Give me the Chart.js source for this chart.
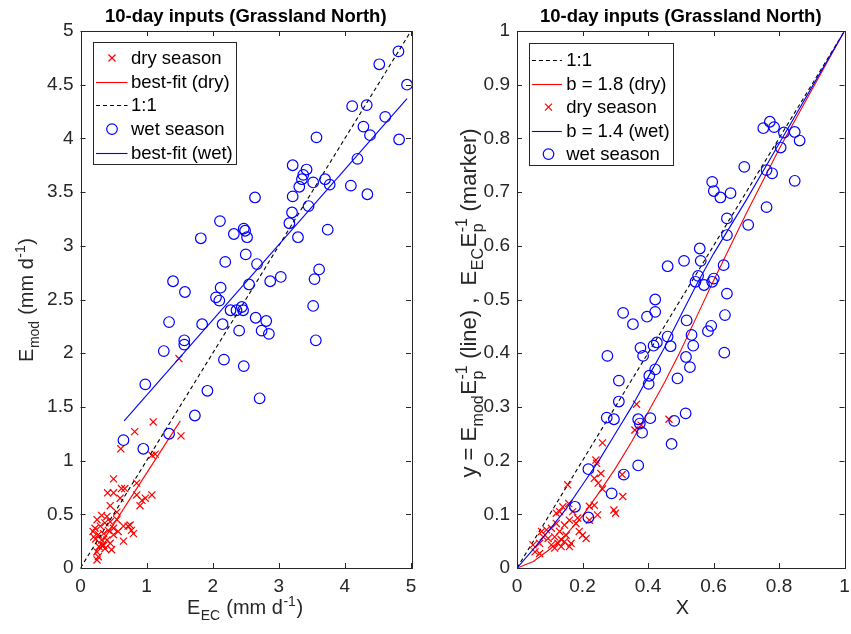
<!DOCTYPE html>
<html><head><meta charset="utf-8">
<script src="https://cdn.jsdelivr.net/npm/chart.js@4.4.1/dist/chart.umd.min.js"></script>
<style>
html,body{margin:0;padding:0;background:#fff;}
#wrap{position:relative;width:851px;height:634px;overflow:hidden;}
#c1{position:absolute;left:0;top:0;}
#c2{position:absolute;left:430px;top:0;}
</style></head><body>
<div id="wrap"><canvas id="c1" width="430" height="634"></canvas><canvas id="c2" width="421" height="634"></canvas></div>
<script>
// ---------------- DATA ----------------
const titleText = '10-day inputs (Grassland North)';

// Left panel: E_mod vs E_EC
const leftXTicks = [0, 1, 2, 3, 4, 5];
const leftYTicks = [0, 0.5, 1, 1.5, 2, 2.5, 3, 3.5, 4, 4.5, 5];

const leftDryX = [1.10,0.82,1.52,0.61,1.08,1.13,0.50,0.62,0.67,0.41,0.50,0.85,0.85,1.08,0.98,0.93,0.90,0.60,0.45,0.55,0.32,0.40,0.25,0.22,0.30,0.37,0.45,0.55,0.65,0.72,0.77,0.75,0.80,0.57,0.50,0.35,0.27,0.20,0.23,0.32,0.40,0.45,0.35,0.28,0.37,0.47,0.65,0.25,0.27,0.25,0.33,0.19,0.42,0.50,1.49];
const leftDryY = [1.36,1.27,1.23,1.11,1.05,1.06,0.83,0.74,0.74,0.70,0.70,0.79,0.68,0.68,0.65,0.63,0.58,0.65,0.58,0.52,0.49,0.48,0.45,0.37,0.39,0.42,0.43,0.45,0.39,0.39,0.35,0.40,0.32,0.34,0.31,0.32,0.31,0.29,0.27,0.26,0.26,0.23,0.21,0.20,0.18,0.17,0.25,0.15,0.105,0.075,0.21,0.34,0.35,0.37,1.95];

const leftWetX = [4.81,4.52,4.94,4.11,4.33,4.61,4.28,4.38,4.82,3.57,4.19,3.21,3.42,3.37,3.35,3.31,3.52,3.70,3.77,4.09,4.34,2.64,3.21,3.45,3.20,3.16,3.29,3.74,2.11,1.82,2.32,2.47,2.49,2.52,2.50,2.19,2.67,3.03,2.87,3.61,3.54,1.40,1.58,2.55,2.12,2.05,2.10,2.27,2.36,2.44,2.46,3.52,1.34,1.84,2.15,2.65,2.81,2.40,2.74,2.85,1.57,1.57,3.56,1.26,2.17,2.47,0.98,1.92,2.71,1.73,1.34,0.65,0.95];
const leftWetY = [4.81,4.69,4.50,4.30,4.31,4.20,4.11,4.03,3.99,4.01,3.81,3.75,3.71,3.66,3.62,3.55,3.59,3.62,3.57,3.56,3.48,3.45,3.46,3.37,3.31,3.21,3.08,3.15,3.23,3.07,3.11,3.16,3.14,3.08,2.92,2.85,2.83,2.71,2.67,2.78,2.69,2.67,2.57,2.64,2.61,2.52,2.49,2.40,2.40,2.43,2.40,2.44,2.29,2.27,2.27,2.33,2.30,2.21,2.21,2.18,2.12,2.08,2.12,2.02,1.94,1.88,1.71,1.65,1.58,1.42,1.25,1.19,1.11];

const leftFitDryX = [0.20, 1.51];
const leftFitDryY = [0.12, 1.37];
const leftFitWetX = [0.66, 4.94];
const leftFitWetY = [1.37, 4.37];
const leftOneX = [0, 5];
const leftOneY = [0, 5];

// Right panel: y vs X
const rightXTicks = [0, 0.2, 0.4, 0.6, 0.8, 1];
const rightYTicks = [0, 0.1, 0.2, 0.3, 0.4, 0.5, 0.6, 0.7, 0.8, 0.9, 1];

const rightOneX = [0, 1];
const rightOneY = [0, 1];
const curveDryX = [0,0.05,0.1,0.15,0.2,0.25,0.3,0.35,0.4,0.45,0.5,0.55,0.6,0.7,0.8,0.9,1];
const curveDryY = [0,0.012,0.035,0.062,0.097,0.14,0.185,0.235,0.29,0.345,0.405,0.47,0.535,0.66,0.78,0.89,1];
const curveWetX = [0,0.05,0.1,0.15,0.2,0.25,0.3,0.35,0.4,0.45,0.5,0.55,0.6,0.7,0.8,0.9,1];
const curveWetY = [0,0.035,0.072,0.11,0.155,0.2,0.25,0.3,0.355,0.41,0.47,0.53,0.585,0.685,0.79,0.895,1];

const rightDryX = [0.365,0.464,0.360,0.379,0.261,0.241,0.243,0.256,0.236,0.248,0.155,0.261,0.323,0.321,0.296,0.301,0.221,0.236,0.246,0.221,0.158,0.170,0.140,0.130,0.160,0.180,0.145,0.120,0.105,0.090,0.075,0.130,0.190,0.200,0.211,0.150,0.115,0.095,0.135,0.145,0.125,0.165,0.160,0.135,0.105,0.069,0.049,0.069,0.115,0.080,0.120,0.185,0.055];
const rightDryY = [0.305,0.277,0.257,0.266,0.233,0.201,0.195,0.176,0.167,0.158,0.155,0.147,0.133,0.174,0.108,0.102,0.115,0.117,0.099,0.089,0.120,0.105,0.114,0.105,0.089,0.083,0.080,0.083,0.074,0.071,0.068,0.068,0.068,0.061,0.055,0.061,0.058,0.055,0.053,0.049,0.046,0.046,0.040,0.040,0.043,0.046,0.043,0.027,0.037,0.058,0.102,0.093,0.030];

const rightWetX = [0.772,0.752,0.785,0.815,0.848,0.863,0.805,0.694,0.762,0.779,0.848,0.596,0.601,0.621,0.652,0.762,0.641,0.641,0.706,0.558,0.561,0.510,0.460,0.631,0.553,0.545,0.571,0.601,0.596,0.641,0.422,0.422,0.397,0.324,0.354,0.518,0.635,0.593,0.583,0.460,0.533,0.469,0.538,0.427,0.417,0.377,0.385,0.276,0.516,0.633,0.528,0.422,0.404,0.402,0.490,0.311,0.311,0.274,0.296,0.370,0.375,0.407,0.382,0.480,0.515,0.472,0.370,0.218,0.326,0.289,0.177,0.218];
const rightWetY = [0.831,0.819,0.821,0.811,0.812,0.796,0.783,0.747,0.741,0.735,0.721,0.719,0.702,0.690,0.698,0.672,0.651,0.620,0.639,0.595,0.572,0.572,0.562,0.564,0.544,0.533,0.527,0.539,0.533,0.511,0.500,0.477,0.468,0.475,0.454,0.461,0.471,0.451,0.441,0.431,0.434,0.413,0.414,0.420,0.414,0.410,0.395,0.395,0.393,0.401,0.374,0.370,0.358,0.343,0.353,0.349,0.310,0.280,0.277,0.277,0.269,0.279,0.252,0.274,0.288,0.231,0.191,0.184,0.174,0.139,0.114,0.094];

// ---------------- STYLE / HELPERS ----------------
const AX = '#262626';
const RED = '#ff0000';
const BLUE = '#0000ff';
const FONT = "'Liberation Sans', Arial, Helvetica, sans-serif";
const TICK_FS = 19;
const LABEL_FS = 20;
const LEGEND_FS = 18.5;
Chart.defaults.font.family = FONT;
Chart.defaults.font.size = TICK_FS;
Chart.defaults.color = AX;

function pts(xs, ys) { return xs.map((x, i) => ({ x: x, y: ys[i] })); }

function drawRich(ctx, runs, cx, cy, rotate, fs, color) {
  const sm = Math.round(fs * 0.72);
  ctx.save();
  ctx.translate(cx, cy);
  if (rotate) ctx.rotate(-Math.PI / 2);
  ctx.fillStyle = color;
  ctx.textBaseline = 'alphabetic';
  ctx.textAlign = 'left';
  const widths = runs.map(r => {
    if (r.sub || r.sup) {
      ctx.font = sm + 'px ' + FONT;
      const a = r.sub ? ctx.measureText(r.sub).width : 0;
      const b = r.sup ? ctx.measureText(r.sup).width : 0;
      return Math.max(a, b) + 1;
    }
    ctx.font = fs + 'px ' + FONT;
    return ctx.measureText(r.t).width;
  });
  const total = widths.reduce((s, w) => s + w, 0);
  let x = -total / 2;
  runs.forEach((r, i) => {
    if (r.sub || r.sup) {
      ctx.font = sm + 'px ' + FONT;
      if (r.sub) ctx.fillText(r.sub, x + 0.5, fs * 0.3);
      if (r.sup) ctx.fillText(r.sup, x + 0.5, -fs * 0.42);
    } else {
      ctx.font = fs + 'px ' + FONT;
      ctx.fillText(r.t, x, 0);
    }
    x += widths[i];
  });
  ctx.restore();
}

const framePlugin = {
  id: 'frame',
  afterDatasetsDraw(chart) {
    const ctx = chart.ctx, a = chart.chartArea;
    const xs = chart.scales.x, ys = chart.scales.y;
    const L = 5;
    ctx.save();
    ctx.strokeStyle = AX;
    ctx.lineWidth = 1;
    ctx.setLineDash([]);
    ctx.beginPath();
    xs.ticks.forEach(t => {
      const p = Math.round(xs.getPixelForValue(t.value)) + 0.5;
      ctx.moveTo(p, a.bottom); ctx.lineTo(p, a.bottom - L);
      ctx.moveTo(p, a.top); ctx.lineTo(p, a.top + L);
    });
    ys.ticks.forEach(t => {
      const p = Math.round(ys.getPixelForValue(t.value)) + 0.5;
      ctx.moveTo(a.left, p); ctx.lineTo(a.left + L, p);
      ctx.moveTo(a.right, p); ctx.lineTo(a.right - L, p);
    });
    ctx.stroke();
    ctx.strokeRect(Math.round(a.left) + 0.5, Math.round(a.top) + 0.5, Math.round(a.right - a.left), Math.round(a.bottom - a.top));
    ctx.restore();
  },
  afterDraw(chart, args, opts) {
    const ctx = chart.ctx;
    if (opts.yTitle) drawRich(ctx, opts.yTitle.runs, opts.yTitle.x, opts.yTitle.y, true, opts.yTitle.fs || opts.fs, AX);
    if (opts.xTitle) drawRich(ctx, opts.xTitle.runs, opts.xTitle.x, opts.xTitle.y, false, opts.fs, AX);
  }
};

const legendPlugin = {
  id: 'boxLegend',
  afterDatasetsDraw(chart, args, o) {
    const ctx = chart.ctx, a = chart.chartArea;
    const ds = chart.data.datasets;
    ctx.save();
    ctx.font = o.fs + 'px ' + FONT;
    let maxW = 0;
    ds.forEach(d => { maxW = Math.max(maxW, ctx.measureText(d.label).width); });
    const bx = Math.round(a.left + o.dx) + 0.5, by = Math.round(a.top + o.dy) + 0.5;
    const bw = Math.round(o.textX + maxW + 4), bh = o.h;
    ctx.fillStyle = '#fff';
    ctx.fillRect(bx, by, bw, bh);
    ctx.strokeStyle = AX; ctx.lineWidth = 1;
    ctx.strokeRect(bx, by, bw, bh);
    ds.forEach((d, i) => {
      const cy = by + o.first + i * o.row;
      if (d.showLine) {
        ctx.strokeStyle = d.borderColor;
        ctx.lineWidth = d.borderWidth;
        ctx.setLineDash(d.borderDash || []);
        ctx.beginPath();
        ctx.moveTo(bx + o.l0, Math.round(cy) + 0.5);
        ctx.lineTo(bx + o.l1, Math.round(cy) + 0.5);
        ctx.stroke();
        ctx.setLineDash([]);
      } else {
        ctx.strokeStyle = d.pointBorderColor;
        ctx.lineWidth = 1.2;
        const mx = bx + o.mk, r = d.pointRadius;
        ctx.beginPath();
        if (d.pointStyle === 'circle') {
          ctx.arc(mx, cy, r, 0, Math.PI * 2);
        } else {
          const h = r * Math.SQRT1_2;
          ctx.moveTo(mx - h, cy - h); ctx.lineTo(mx + h, cy + h);
          ctx.moveTo(mx - h, cy + h); ctx.lineTo(mx + h, cy - h);
        }
        ctx.stroke();
      }
      ctx.fillStyle = '#000';
      ctx.textBaseline = 'middle';
      ctx.textAlign = 'left';
      ctx.fillText(d.label, bx + o.textX, cy + 1);
    });
    ctx.restore();
  }
};

function markerSet(label, xs, ys, style, color, r) {
  return { label: label, data: pts(xs, ys), showLine: false, pointStyle: style,
    pointRadius: r, pointBorderColor: color, pointBackgroundColor: 'rgba(0,0,0,0)',
    pointBorderWidth: 1.2, borderColor: color, clip: false };
}
function lineSet(label, xs, ys, color, dash) {
  return { label: label, data: pts(xs, ys), showLine: true, pointRadius: 0,
    borderColor: color, borderWidth: 1.1, borderDash: dash || [], tension: 0, fill: false };
}
function ordered(list) { list.forEach((d, i) => { d.order = list.length - i; }); return list; }

function axisCfg(min, max, ticks, which, size) {
  const c = {
    type: 'linear', min: min, max: max,
    grid: { display: false, drawTicks: false }, border: { display: false },
    ticks: { color: AX, font: { size: TICK_FS }, padding: 7, callback: v => String(v), maxRotation: 0, autoSkip: false },
    afterBuildTicks: s => { s.ticks = ticks.map(v => ({ value: v })); }
  };
  if (which === 'x') c.afterFit = s => { s.height = size; s.paddingLeft = 0; s.paddingRight = 0; };
  else c.afterFit = s => { s.width = size; s.paddingTop = 0; s.paddingBottom = 0; };
  return c;
}

function baseOptions(xAxis, yAxis, padRight, legendOpts, frameOpts) {
  return {
    responsive: false, animation: false, events: [],
    devicePixelRatio: 1,
    layout: { padding: { left: 0, right: padRight, top: 0, bottom: 0 } },
    scales: { x: xAxis, y: yAxis },
    plugins: {
      legend: { display: false }, tooltip: { enabled: false },
      title: { display: true, text: titleText, fullSize: false, color: '#000',
        font: { size: 18.5, weight: 'bold' }, padding: { top: 6, bottom: 2.8 } },
      boxLegend: legendOpts,
      frame: frameOpts
    }
  };
}

// ---------------- LEFT CHART ----------------
new Chart(document.getElementById('c1'), {
  type: 'scatter',
  data: { datasets: ordered([
    markerSet('dry season', leftDryX, leftDryY, 'crossRot', RED, 5),
    lineSet('best-fit (dry)', leftFitDryX, leftFitDryY, RED),
    lineSet('1:1', leftOneX, leftOneY, '#000', [4, 3]),
    markerSet('wet season', leftWetX, leftWetY, 'circle', BLUE, 5.3),
    lineSet('best-fit (wet)', leftFitWetX, leftFitWetY, BLUE)
  ]) },
  options: baseOptions(
    axisCfg(0, 5, leftXTicks, 'x', 66),
    axisCfg(0, 5, leftYTicks, 'y', 80.5),
    19,
    { fs: LEGEND_FS, dx: 12, dy: 10.5, h: 122, first: 15.5, row: 23.7, textX: 37.5, l0: 2.5, l1: 34, mk: 18.5 },
    { fs: LABEL_FS,
      yTitle: { x: 33, y: 300, runs: [{ t: 'E' }, { sub: 'mod' }, { t: ' (mm d' }, { sup: '-1' }, { t: ')' }] },
      xTitle: { x: 245, y: 614, runs: [{ t: 'E' }, { sub: 'EC' }, { t: ' (mm d' }, { sup: '-1' }, { t: ')' }] } }
  ),
  plugins: [framePlugin, legendPlugin]
});

// ---------------- RIGHT CHART ----------------
new Chart(document.getElementById('c2'), {
  type: 'scatter',
  data: { datasets: ordered([
    lineSet('1:1', rightOneX, rightOneY, '#000', [4, 3]),
    lineSet('b = 1.8 (dry)', curveDryX, curveDryY, RED),
    markerSet('dry season', rightDryX, rightDryY, 'crossRot', RED, 5),
    lineSet('b = 1.4 (wet)', curveWetX, curveWetY, BLUE),
    markerSet('wet season', rightWetX, rightWetY, 'circle', BLUE, 5.3)
  ]) },
  options: baseOptions(
    axisCfg(0, 1, rightXTicks, 'x', 66),
    axisCfg(0, 1, rightYTicks, 'y', 87),
    3,
    { fs: LEGEND_FS, dx: 12.3, dy: 11.7, h: 122, first: 16.6, row: 23.5, textX: 36.7, l0: 2.4, l1: 32.4, mk: 19 },
    { fs: LABEL_FS,
      yTitle: { x: 46, y: 303, fs: 22, runs: [{ t: 'y = E' }, { sub: 'mod' }, { t: 'E' }, { sub: 'p', sup: '-1' }, { t: ' (line) ,  E' }, { sub: 'EC' }, { t: 'E' }, { sub: 'p', sup: '-1' }, { t: ' (marker)' }] },
      xTitle: { x: 252.5, y: 614, runs: [{ t: 'X' }] } }
  ),
  plugins: [framePlugin, legendPlugin]
});
</script>
</body></html>
